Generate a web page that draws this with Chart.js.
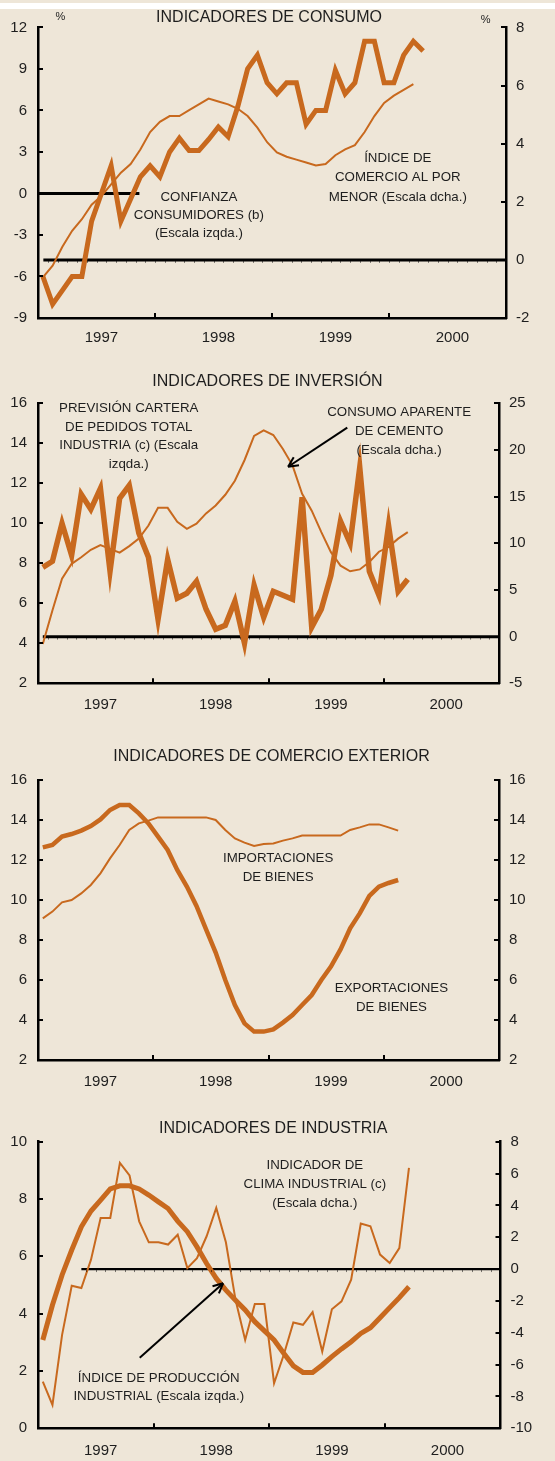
<!DOCTYPE html>
<html lang="es">
<head>
<meta charset="utf-8">
<title>Indicadores de consumo, inversión, comercio exterior e industria</title>
<script src="https://cdn.jsdelivr.net/npm/chart.js@4.4.1/dist/chart.umd.min.js"></script>
<style>
  html, body { margin: 0; padding: 0; background: #eee6d8; }
  body { position: relative; width: 555px; height: 1461px; overflow: hidden; }
  .strip { position: absolute; left: 0; top: 3px; width: 555px; height: 6px; background: #fff; }
  canvas { position: absolute; left: 0; }
</style>
</head>
<body>
<div class="strip"></div>
<canvas id="consumo"></canvas>
<canvas id="inversion"></canvas>
<canvas id="exterior"></canvas>
<canvas id="industria"></canvas>
<script>
// x axis: months since Jan 1997 (0..48), one point per month
const years = ['1997', '1998', '1999', '2000'];
const yearEdges = [12, 24, 36];

// Indicadores de consumo
const confianza = [-6, -8, -7, -6, -6, -2, 0, 2, -2, -0.4, 1.2, 2, 1.2, 3, 4, 3.1, 3.1, 3.9, 4.8, 4.1,
  6.3, 9, 10, 8, 7.2, 8, 8, 5, 6, 6, 8.9, 7.2, 8, 11, 11, 8, 8, 10, 11, 10.3];
const comercioMenor = [-0.6, -0.2, 0.45, 1.0, 1.4, 1.9, 2.2, 2.6, 3.0, 3.3, 3.8, 4.4, 4.75, 4.95, 4.95,
  5.15, 5.35, 5.55, 5.45, 5.35, 5.2, 4.95, 4.55, 4.05, 3.7, 3.55, 3.45, 3.35, 3.25, 3.3, 3.6, 3.8,
  3.95, 4.4, 4.95, 5.4, 5.65, 5.85, 6.05];
const consumoCeroIzq = [0.1, 10.4];
const consumoCeroDcha = [0.55, 48];

// Indicadores de inversion
const carteraPedidos = [7.8, 8.1, 10.0, 8.4, 11.45, 10.7, 11.75, 7.6, 11.25, 11.9, 9.5, 8.3, 5.2, 8.2,
  6.25, 6.5, 7.1, 5.7, 4.7, 4.9, 6.1, 4.0, 6.9, 5.3, 6.6, 6.4, 6.2, 11.3, 4.8, 5.7, 7.4, 10.1, 9.0,
  12.8, 7.6, 6.4, 9.9, 6.6, 7.2];
const cemento = [-0.8, 2.8, 6.2, 7.8, 8.5, 9.3, 9.8, 9.4, 9.0, 9.7, 10.5, 11.9, 13.8, 13.8, 12.3, 11.55,
  12.1, 13.2, 14.05, 15.2, 16.7, 18.9, 21.5, 22.1, 21.6, 20.1, 18.35, 15.3, 13.5, 11.2, 9.05, 7.6,
  7.0, 7.2, 8.0, 9.1, 9.6, 10.5, 11.2];
const inversionCero = [0.5, 48];

// Indicadores de comercio exterior
const exportaciones = [12.63, 12.75, 13.17, 13.3, 13.47, 13.7, 14.03, 14.5, 14.75, 14.75, 14.33, 13.83,
  13.17, 12.5, 11.5, 10.67, 9.7, 8.53, 7.37, 6.0, 4.75, 3.83, 3.42, 3.42, 3.53, 3.87, 4.25, 4.75,
  5.25, 6.0, 6.67, 7.53, 8.58, 9.33, 10.2, 10.67, 10.85, 11.0];
const importaciones = [9.08, 9.42, 9.88, 10.0, 10.33, 10.75, 11.33, 12.08, 12.75, 13.5, 13.83, 13.97,
  14.13, 14.13, 14.13, 14.13, 14.13, 14.13, 14.0, 13.5, 13.08, 12.87, 12.7, 12.8, 12.83, 12.97,
  13.08, 13.22, 13.22, 13.22, 13.22, 13.22, 13.5, 13.63, 13.78, 13.78, 13.63, 13.47];

// Indicadores de industria
const produccion = [3.08, 4.3, 5.35, 6.22, 7.03, 7.58, 7.96, 8.35, 8.46, 8.46, 8.35, 8.14, 7.9, 7.67,
  7.23, 6.86, 6.33, 5.75, 5.23, 4.82, 4.47, 4.13, 3.72, 3.4, 3.08, 2.62, 2.18, 1.95, 1.95, 2.21,
  2.5, 2.77, 3.02, 3.31, 3.51, 3.86, 4.21, 4.56, 4.94];
const climaIndustrial = [-7.07, -8.53, -4.13, -1.05, -1.19, 0.59, 3.21, 3.21, 6.67, 5.88, 3.0, 1.68,
  1.68, 1.54, 2.16, 0.06, 0.69, 2.06, 3.84, 1.68, -1.93, -4.45, -2.2, -2.2, -7.17, -5.4, -3.35,
  -3.5, -2.7, -5.18, -2.52, -2.03, -0.67, 2.86, 2.69, 0.91, 0.38, 1.32, 6.36];
const industriaCero = [4.5, 48];

const ORANGE = '#c8691e';
const INK = '#1e1e1e';
const FAMILY = '"Liberation Sans", Arial, sans-serif';

const monthly = vals => vals.map((v, i) => ({ x: i + 0.5, y: v }));
const zeroLine = r => [{ x: r[0], y: 0 }, { x: r[1], y: 0 }];

const decor = {
  id: 'decor',
  afterDraw(chart, args, o) {
    const ctx = chart.ctx, a = chart.chartArea, sx = chart.scales.x;
    const seg = (x1, y1, x2, y2) => { ctx.beginPath(); ctx.moveTo(x1, y1); ctx.lineTo(x2, y2); ctx.stroke(); };
    ctx.save();
    ctx.strokeStyle = '#000';
    ctx.lineWidth = 2;
    // tick marks point inwards
    ['y', 'y1'].forEach(id => {
      const s = chart.scales[id];
      const x0 = id === 'y' ? a.left : a.right;
      const d = id === 'y' ? 5 : -5;
      s.ticks.forEach(t => { const y = Math.round(s.getPixelForValue(t.value)); seg(x0, y, x0 + d, y); });
    });
    yearEdges.forEach(v => { const x = Math.round(sx.getPixelForValue(v)); seg(x, a.bottom, x, a.bottom - 5); });

    if (o.zeroMarks) {
      const s = chart.scales[o.zeroMarks.axis], y = s.getPixelForValue(0);
      ctx.lineWidth = 1;
      ctx.strokeStyle = 'rgba(0,0,0,0.5)';
      for (let k = Math.ceil(o.zeroMarks.from); k < 48; k++) {
        const x = Math.round(sx.getPixelForValue(k)) + 0.5;
        seg(x, y + 1, x, y + 3);
      }
    }

    if (o.arrow) {
      const s = chart.scales[o.arrow.axis];
      const x1 = sx.getPixelForValue(o.arrow.from[0]), y1 = s.getPixelForValue(o.arrow.from[1]);
      const x2 = sx.getPixelForValue(o.arrow.to[0]), y2 = s.getPixelForValue(o.arrow.to[1]);
      const ang = Math.atan2(y2 - y1, x2 - x1);
      ctx.strokeStyle = '#000';
      ctx.lineWidth = 2;
      seg(x1, y1, x2, y2);
      [-0.45, 0.45].forEach(d => seg(x2, y2, x2 - 11 * Math.cos(ang + d), y2 - 11 * Math.sin(ang + d)));
    }

    ctx.fillStyle = INK;
    ctx.textAlign = 'center';
    ctx.textBaseline = 'middle';
    ctx.font = '16px ' + FAMILY;
    ctx.fillText(o.title, (a.left + a.right) / 2 + (o.titleDx || 0), a.top + o.titleDy);
    ctx.font = '13.3px ' + FAMILY;
    o.notes.forEach(n => {
      const x = sx.getPixelForValue(n.x), y = chart.scales[n.axis].getPixelForValue(n.y);
      n.lines.forEach((t, k) => ctx.fillText(t, x, y + k * n.lh));
    });
    ctx.font = '11px ' + FAMILY;
    (o.units || []).forEach(u => ctx.fillText(u.text, sx.getPixelForValue(u.x), a.top + u.dy));
    ctx.restore();
  }
};

function panel(id, box, left, right, datasets, decorOpts) {
  const canvas = document.getElementById(id);
  canvas.width = 555;
  canvas.height = box.height;
  canvas.style.top = box.canvasTop + 'px';
  canvas.style.width = '555px';
  canvas.style.height = box.height + 'px';
  const font = { family: FAMILY, size: 15 };
  const border = { display: true, color: '#000', width: 2.5 };
  const grid = { display: false, drawTicks: false };
  return new Chart(canvas, {
    type: 'line',
    data: { datasets: datasets },
    options: {
      responsive: false,
      animation: false,
      devicePixelRatio: 1,
      layout: { padding: { top: box.top - box.canvasTop, left: 0, right: 0, bottom: 0 } },
      elements: { point: { radius: 0 }, line: { tension: 0, borderJoinStyle: 'miter', borderCapStyle: 'butt' } },
      plugins: { legend: { display: false }, tooltip: { enabled: false }, decor: decorOpts },
      scales: {
        x: {
          type: 'linear', min: 0, max: 48,
          afterBuildTicks: s => { s.ticks = years.map((y, k) => ({ value: 12 * k + 6.5 })); },
          ticks: { callback: (v, i) => years[i], autoSkip: false, maxRotation: 0, padding: box.labelPad, font: font, color: INK },
          grid: grid, border: border,
          afterFit: s => { s.height = box.canvasTop + box.height - box.bottom; }
        },
        y: {
          position: 'left', min: left.min, max: left.max,
          ticks: { stepSize: left.step, padding: 11, font: font, color: INK },
          grid: grid, border: border,
          afterFit: s => { s.width = 38; }
        },
        y1: {
          position: 'right', min: right.min, max: right.max,
          ticks: { stepSize: right.step, padding: 10, font: font, color: INK },
          grid: grid, border: border,
          afterFit: s => { s.width = 555 - box.right; }
        }
      }
    },
    plugins: [decor]
  });
}

const thick = (vals, axis, w) => ({ data: monthly(vals), yAxisID: axis, borderColor: ORANGE, borderWidth: w || 5 });
const thin = (vals, axis) => ({ data: monthly(vals), yAxisID: axis, borderColor: ORANGE, borderWidth: 2 });
const black = (r, axis, w) => ({ data: zeroLine(r), yAxisID: axis, borderColor: '#000', borderWidth: w || 3 });

panel('consumo', { canvasTop: 0, height: 352, top: 27.4, bottom: 318, right: 506, labelPad: 11 },
  { min: -9, max: 12, step: 3 }, { min: -2, max: 8, step: 2 },
  [thick(confianza, 'y'), thin(comercioMenor, 'y1'), black(consumoCeroIzq, 'y'), black(consumoCeroDcha, 'y1')],
  {
    title: 'INDICADORES DE CONSUMO', titleDy: -9.5, titleDx: -3,
    zeroMarks: { axis: 'y1', from: 1 },
    notes: [
      { axis: 'y', x: 16.5, y: -0.25, lh: 18.3, lines: ['CONFIANZA', 'CONSUMIDORES (b)', '(Escala izqda.)'] },
      { axis: 'y1', x: 36.9, y: 3.49, lh: 19.2, lines: ['ÍNDICE DE', 'COMERCIO AL POR', 'MENOR (Escala dcha.)'] }
    ],
    units: [{ text: '%', x: 2.3, dy: -10 }, { text: '%', x: 45.9, dy: -7 }]
  });

panel('inversion', { canvasTop: 358, height: 358, top: 403.3, bottom: 683.3, right: 499, labelPad: 12.5 },
  { min: 2, max: 16, step: 2 }, { min: -5, max: 25, step: 5 },
  [thick(carteraPedidos, 'y', 5.5), thin(cemento, 'y1'), black(inversionCero, 'y1')],
  {
    title: 'INDICADORES DE INVERSIÓN', titleDy: -21.6, titleDx: -1,
    zeroMarks: { axis: 'y1', from: 1 },
    notes: [
      { axis: 'y', x: 9.45, y: 15.75, lh: 18.6, lines: ['PREVISIÓN CARTERA', 'DE PEDIDOS TOTAL', 'INDUSTRIA (c) (Escala', 'izqda.)'] },
      { axis: 'y1', x: 37.6, y: 24.0, lh: 18.9, lines: ['CONSUMO APARENTE', 'DE CEMENTO', '(Escala dcha.)'] }
    ],
    arrow: { axis: 'y1', from: [32.2, 22.4], to: [26.04, 18.2] }
  });

panel('exterior', { canvasTop: 730, height: 362, top: 780, bottom: 1060, right: 499, labelPad: 12.5 },
  { min: 2, max: 16, step: 2 }, { min: 2, max: 16, step: 2 },
  [thick(exportaciones, 'y', 4.5), thin(importaciones, 'y')],
  {
    title: 'INDICADORES DE COMERCIO EXTERIOR', titleDy: -23.3, titleDx: 3,
    notes: [
      { axis: 'y', x: 25.0, y: 12.09, lh: 19, lines: ['IMPORTACIONES', 'DE BIENES'] },
      { axis: 'y', x: 36.8, y: 5.59, lh: 19, lines: ['EXPORTACIONES', 'DE BIENES'] }
    ]
  });

panel('industria', { canvasTop: 1096, height: 365, top: 1141.7, bottom: 1428.3, right: 500.5, labelPad: 14 },
  { min: 0, max: 10, step: 2 }, { min: -10, max: 8, step: 2 },
  [thick(produccion, 'y'), thin(climaIndustrial, 'y1'), black(industriaCero, 'y1', 2.2)],
  {
    title: 'INDICADORES DE INDUSTRIA', titleDy: -13.4, titleDx: 4,
    zeroMarks: { axis: 'y1', from: 5 },
    notes: [
      { axis: 'y', x: 12.53, y: 1.745, lh: 18.4, lines: ['ÍNDICE DE PRODUCCIÓN', 'INDUSTRIAL (Escala izqda.)'] },
      { axis: 'y1', x: 28.73, y: 6.5, lh: 18.8, lines: ['INDICADOR DE', 'CLIMA INDUSTRIAL (c)', '(Escala dcha.)'] }
    ],
    arrow: { axis: 'y', from: [10.56, 2.46], to: [19.21, 5.06] }
  });
</script>
</body>
</html>
